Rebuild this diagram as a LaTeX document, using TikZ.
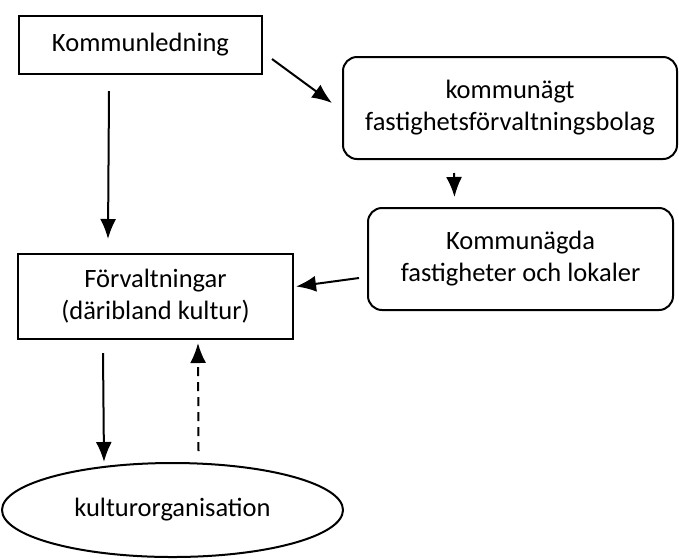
\documentclass[tikz,border=0pt]{standalone}
\usepackage{fontspec}
\setmainfont{Carlito}
\usetikzlibrary{arrows.meta,calc,shapes.geometric}
\begin{document}
\begin{tikzpicture}[x=1pt,y=-1pt,
  every node/.style={font=\fontsize{26.5}{32}\selectfont, align=center, line width=2pt, inner sep=0pt},
  sqbox/.style={draw, rectangle},
  rbox/.style={draw, rectangle, rounded corners=14pt},
  oval/.style={draw, ellipse},
  arr/.style={line width=2pt, -{Latex[length=20pt,width=16pt]}},
  darr/.style={arr, dash pattern=on 9pt off 6pt}]
\useasboundingbox (0,0) rectangle (679,558);
\node[sqbox, minimum width=243pt, minimum height=58pt] (kl) at (140.5,45) {Kommunledning};
\node[rbox, minimum width=334pt, minimum height=102pt] (bol) at (510,108) {kommunägt\\fastighetsförvaltningsbolag};
\node[rbox, minimum width=305pt, minimum height=102pt] (fast) at (520.5,259) {Kommunägda\\fastigheter och lokaler};
\node[sqbox, minimum width=275pt, minimum height=85pt] (forv) at (155.5,296.5) {Förvaltningar\\(däribland kultur)};
\node[oval, minimum width=341pt, minimum height=94pt] (kult) at (172.5,510) {kulturorganisation};
\draw[arr] ($(kl.east)+(9,14)$) -- ($(bol.west)+(-10,-5)$);
\draw[arr] ($(kl.south west)+(91,16)$) -- ($(forv.north west)+(91,-14)$);
\draw[arr] ($(bol.south)+(-56,13)$) -- ($(fast.north)+(-66,-10)$);
\draw[arr] ($(fast.west)+(-8,19)$) -- ($(forv.east)+(2,-10)$);
\draw[arr] ($(forv.south west)+(86,13)$) -- ($(kult.north)+(-68.5,0)$);
\draw[darr] ($(kult.north)+(26,-11)$) -- ($(forv.south west)+(181,3)$);
\end{tikzpicture}
\end{document}
